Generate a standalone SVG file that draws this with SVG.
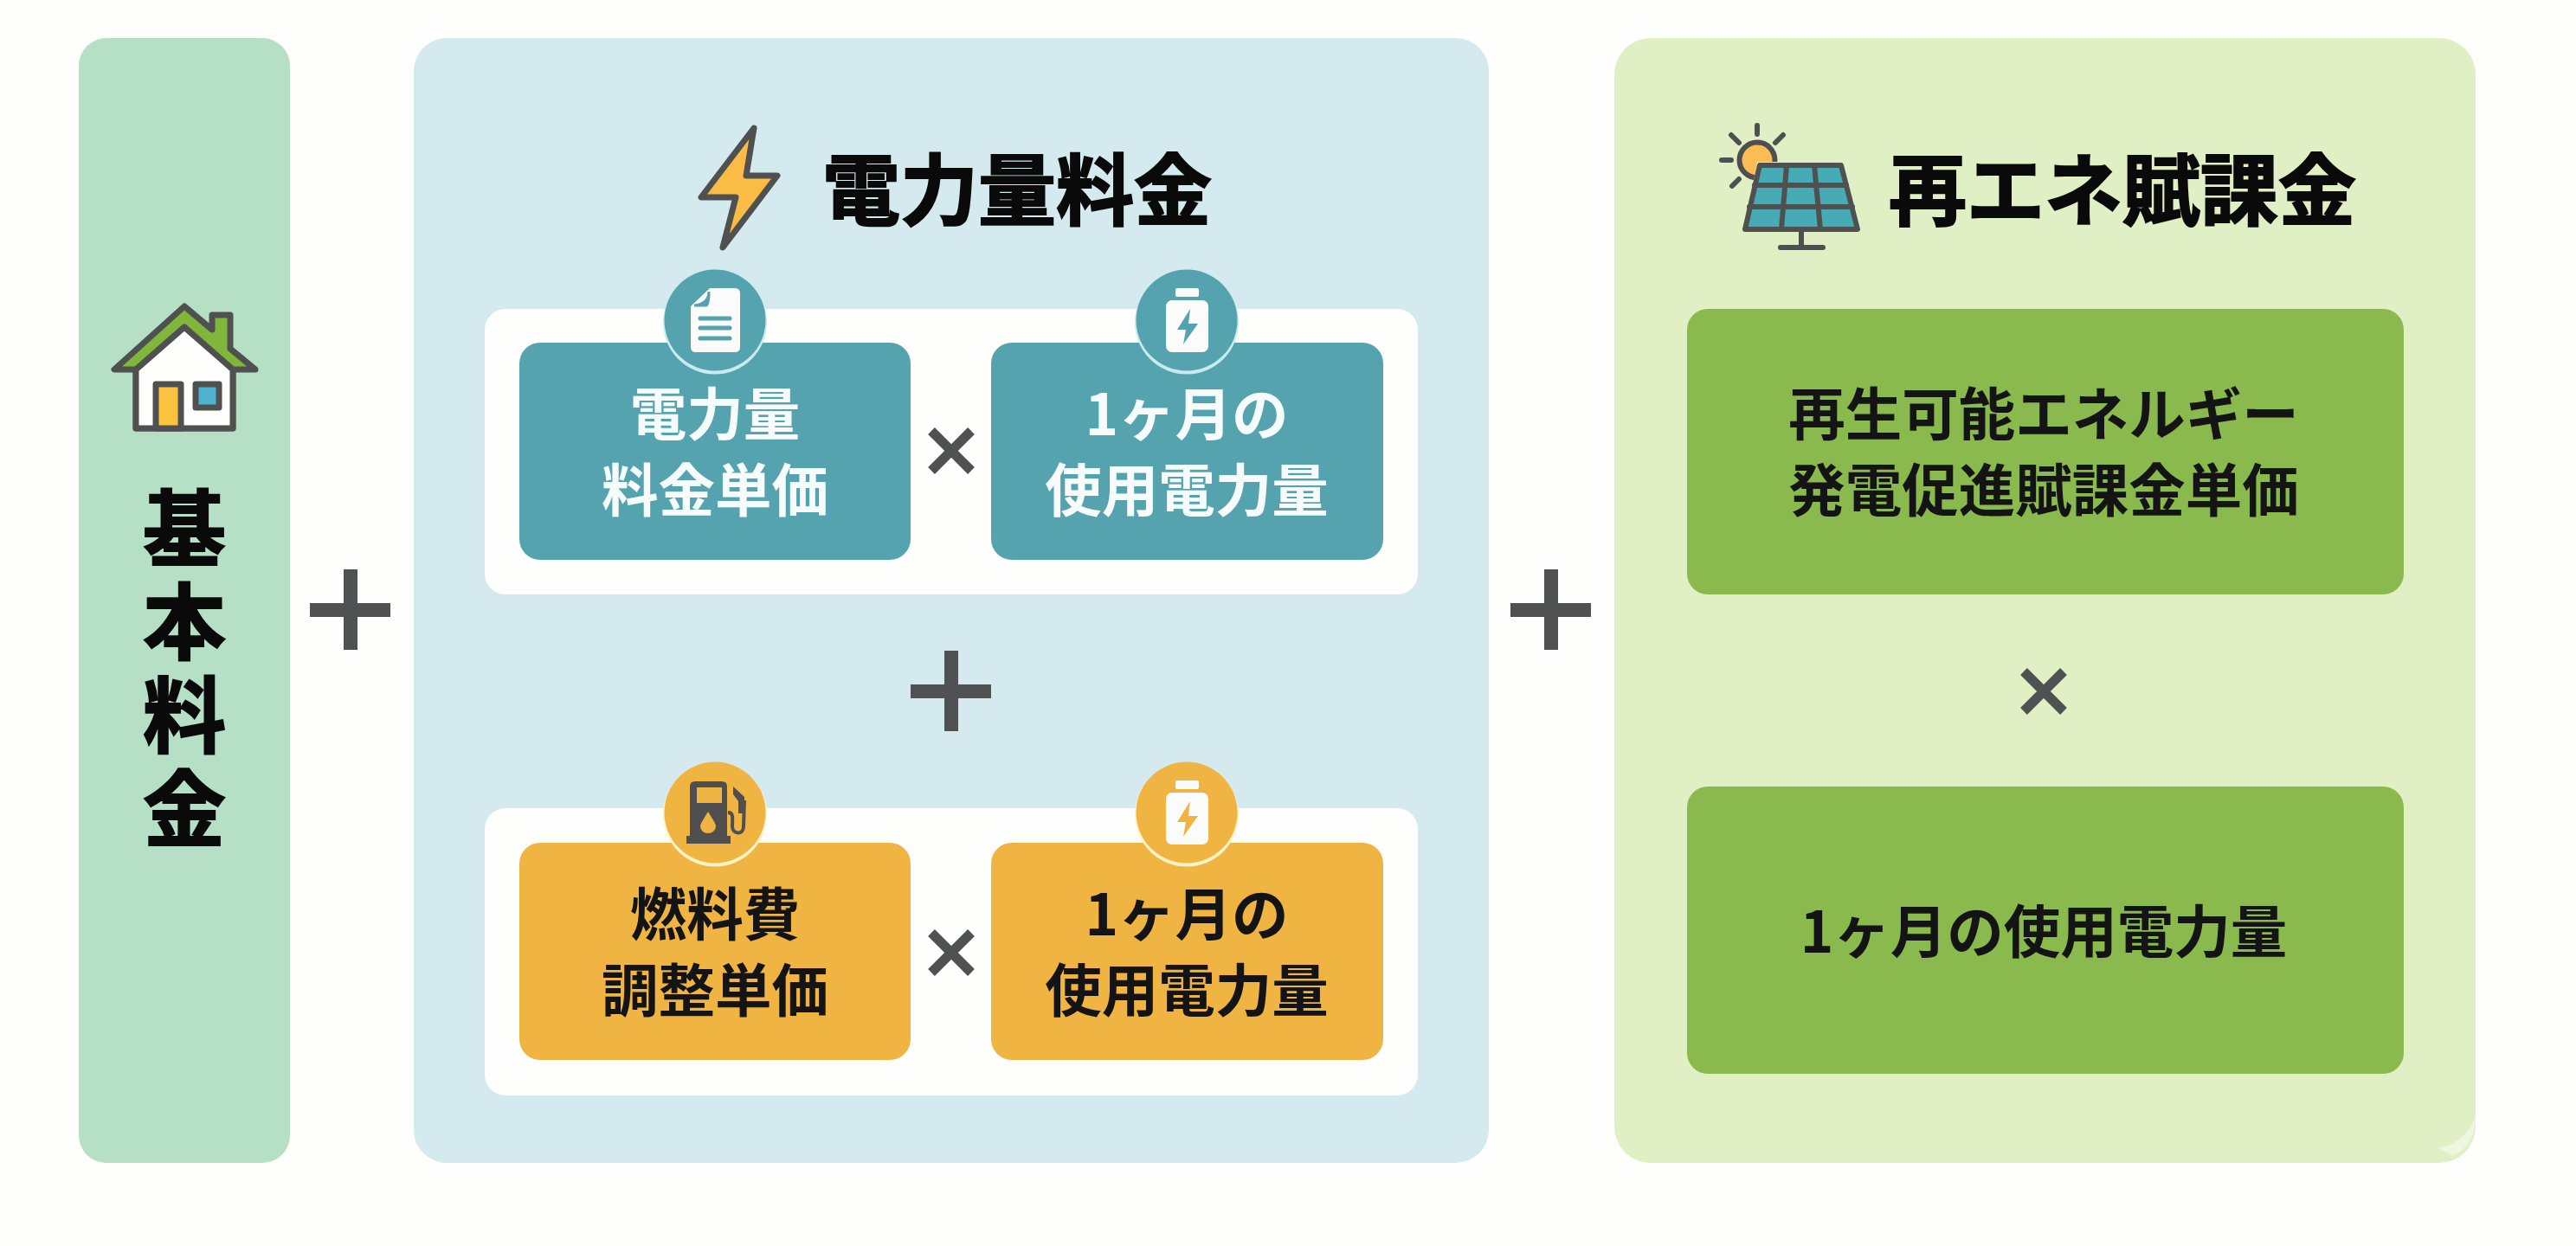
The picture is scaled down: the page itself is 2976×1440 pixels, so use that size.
<svg xmlns="http://www.w3.org/2000/svg" width="2976" height="1440" viewBox="0 0 2976 1440">
<defs>
<style>
text{font-family:"Noto Sans CJK JP","Noto Sans",sans-serif;font-weight:700;text-anchor:middle}
.ttl{font-size:90px;fill:#0a0a0a;stroke:#0a0a0a;stroke-width:2}
.lb{font-size:65.5px}
.w{fill:#f6fbfb}
.k{fill:#141414}
.op{stroke:#505152;stroke-width:16;fill:none}
.x{stroke-width:11}
.ic{stroke:#4f5050;stroke-linejoin:round;stroke-linecap:round}
</style>
<g id="battery">
<rect x="-13" y="-37" width="27" height="10" rx="2" fill="#fbfcfa"/>
<rect x="-24" y="-23" width="49" height="60" rx="7" fill="#fbfcfa"/>
</g>
</defs>
<rect width="2976" height="1440" fill="#fefefc"/>

<g id="kihon">
<rect x="91" y="44" width="244" height="1300" rx="32" fill="#b6e0c6"/>
<path class="ic" d="M213 354 L132 427 H157 V495 H269 V427 H295 L266 403 V364 H245 V381 Z" fill="#80b63a" stroke-width="7"/>
<path class="ic" d="M213 378 L157 427 V495 H269 V427 Z" fill="#fefefc" stroke-width="7"/>
<rect class="ic" x="180" y="444" width="29" height="51" fill="#fbc340" stroke-width="7"/>
<rect class="ic" x="226" y="444" width="27" height="27" fill="#4fb3d0" stroke-width="7"/>
<text class="ttl" style="font-size:96px;writing-mode:vertical-rl;letter-spacing:12px" x="213" y="778">基本料金</text>
</g>

<g id="denryoku">
<rect x="478" y="44" width="1242" height="1300" rx="38" fill="#d4eaee"/>
<path class="ic" d="M871 148 L810 228 H850 L835 286 L898 203 H862 Z" fill="#fbbc45" stroke-width="7"/>
<text class="ttl" x="1175" y="253">電力量料金</text>

<rect x="560" y="357" width="1078" height="330" rx="24" fill="#fefefc"/>
<rect x="600" y="396" width="452" height="251" rx="24" fill="#56a3b0"/>
<rect x="1145" y="396" width="453" height="251" rx="24" fill="#56a3b0"/>
<circle cx="826" cy="372.5" r="60" fill="#c8ebf0"/>
<circle cx="826" cy="370" r="58.5" fill="#56a3b0"/>
<circle cx="1371" cy="372.5" r="60" fill="#c8ebf0"/>
<circle cx="1371" cy="370" r="58.5" fill="#56a3b0"/>
<path d="M820 333 H849 Q855 333 855 339 V401 Q855 407 849 407 H804 Q798 407 798 401 V354 Z" fill="#fbfcfa"/>
<path d="M819 337 Q819 351 802 353 L816 353 Q819 352 819 337 Z" fill="#56a3b0" stroke="#56a3b0" stroke-width="3"/>
<path d="M809 368 H843 M809 379 H843 M809 391 H843" stroke="#56a3b0" stroke-width="5" stroke-linecap="round" fill="none"/>
<use href="#battery" x="1371" y="370"/>
<path d="M1375 357 L1360 381 H1370 L1367 398 L1384 374 H1373 Z" fill="#56a3b0"/>
<text class="lb w" x="826" y="503">電力量</text>
<text class="lb w" x="826" y="591">料金単価</text>
<text class="lb w" x="1371" y="503">1ヶ月の</text>
<text class="lb w" x="1371" y="591">使用電力量</text>

<rect x="560" y="934" width="1078" height="332" rx="24" fill="#fefefc"/>
<rect x="600" y="974" width="452" height="251" rx="24" fill="#f0b443"/>
<rect x="1145" y="974" width="453" height="251" rx="24" fill="#f0b443"/>
<circle cx="826" cy="941.5" r="60" fill="#fdf3c8"/>
<circle cx="826" cy="939" r="58.5" fill="#f0b443"/>
<circle cx="1371" cy="941.5" r="60" fill="#fdf3c8"/>
<circle cx="1371" cy="939" r="58.5" fill="#f0b443"/>
<path d="M803 903 H834 Q840 903 840 909 V966 H844 V975 H793 V966 H797 V909 Q797 903 803 903 Z" fill="#4f4f4f"/>
<rect x="805" y="910" width="29" height="18" fill="#f0b443"/>
<path d="M818 938 C812 948 809 952 809 955 A9 8 0 0 0 827 955 C827 952 824 948 818 938 Z" fill="#f0b443"/>
<path d="M841 939 C848 939 846 946 846 955 C846 964 859 966 859 955 L860 925" fill="none" stroke="#4f4f4f" stroke-width="4"/>
<path d="M847 909 L860 921 V940 H853 V926 L847 918 Z" fill="#4f4f4f"/>
<use href="#battery" x="1371" y="939"/>
<path d="M1375 926 L1360 950 H1370 L1367 967 L1384 943 H1373 Z" fill="#f0b443"/>
<text class="lb k" x="826" y="1081">燃料費</text>
<text class="lb k" x="826" y="1169">調整単価</text>
<text class="lb k" x="1371" y="1081">1ヶ月の</text>
<text class="lb k" x="1371" y="1169">使用電力量</text>
</g>

<g id="saiene">
<rect x="1865" y="44" width="995" height="1300" rx="42" fill="#e0f0c4"/>
<path d="M2860 1290 Q2850 1320 2817 1327 Q2826 1331 2833 1336 Q2860 1325 2860 1290 Z" fill="#eff6e0"/>
<circle cx="2030" cy="185" r="20.5" fill="#fbbc55" stroke="#4f4f4f" stroke-width="6"/>
<path class="ic" d="M2030 145 V155 M2000 156 L2009 165 M2060 156 L2051 165 M1989 185 H2000 M2001 215 L2009 207" stroke-width="6" fill="none"/>
<path d="M2030 187 H2130 L2150 268 H2015 Z" fill="#e0f0c4"/>
<path class="ic" d="M2033 191 H2127 L2146 265 H2016 Z" fill="#47abb6" stroke-width="6"/>
<path class="ic" d="M2027 214 H2133 M2021 239 H2140 M2064 191 L2058 265 M2096 191 L2103 265" stroke-width="6" fill="none"/>
<path class="ic" d="M2081 265 V286 M2057 286 H2106" stroke-width="6" fill="none"/>
<text class="ttl" x="2452" y="253">再エネ賦課金</text>
<rect x="1949" y="357" width="828" height="330" rx="24" fill="#8aba4d"/>
<rect x="1949" y="909" width="828" height="332" rx="24" fill="#8aba4d"/>
<text class="lb k" x="2361" y="503">再生可能エネルギー</text>
<text class="lb k" x="2361" y="591">発電促進賦課金単価</text>
<text class="lb k" x="2361" y="1101">1ヶ月の使用電力量</text>
</g>

<g id="connectors">
<path class="op" d="M358 705 H451 M405 658 V751"/>
<path class="op" d="M1745 705 H1838 M1792 658 V751"/>
<path class="op" d="M1052 799 H1145 M1099 752 V845"/>
<path class="op x" d="M1076 498 L1122 544 M1122 498 L1076 544"/>
<path class="op x" d="M1076 1078 L1122 1124 M1122 1078 L1076 1124"/>
<path class="op x" d="M2338 776 L2384 822 M2384 776 L2338 822"/>
</g>
</svg>
